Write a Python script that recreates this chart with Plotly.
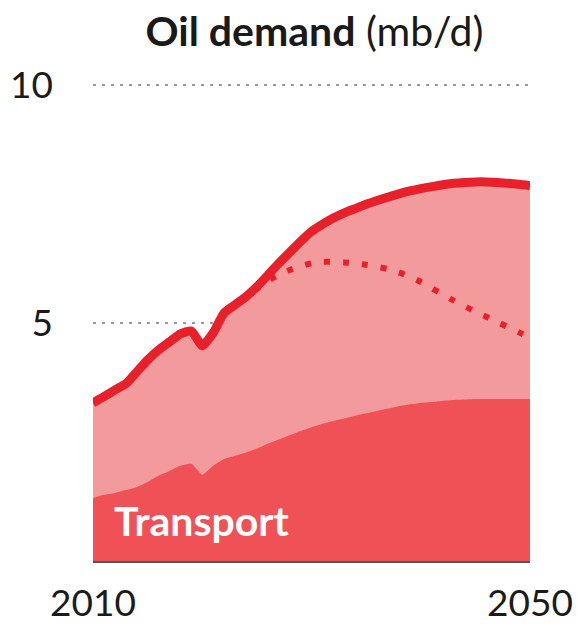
import plotly.graph_objects as go

years = list(range(2010, 2051))

# Total oil demand (mb/d), stated policies path
total = [3.32, 3.45, 3.59, 3.72, 3.97, 4.22, 4.43, 4.60, 4.77, 4.83,
         4.52, 4.79, 5.21, 5.38, 5.55, 5.76, 6.00, 6.25, 6.48, 6.71,
         6.92, 7.07, 7.20, 7.31, 7.40, 7.49, 7.57, 7.64, 7.71, 7.77,
         7.82, 7.86, 7.90, 7.93, 7.95, 7.96, 7.96, 7.95, 7.93, 7.91,
         7.88]

# Transport share of demand (mb/d)
transport = [1.32, 1.39, 1.43, 1.49, 1.55, 1.66, 1.79, 1.89, 2.00, 2.04,
             1.81, 2.00, 2.14, 2.21, 2.28, 2.36, 2.46, 2.55, 2.64, 2.73,
             2.81, 2.88, 2.94, 2.99, 3.05, 3.10, 3.15, 3.20, 3.25, 3.29,
             3.32, 3.34, 3.36, 3.38, 3.39, 3.40, 3.40, 3.40, 3.40, 3.40,
             3.40]

# Alternative scenario, diverging from 2022
alt_years = list(range(2022, 2051))
alt = [5.21, 5.38, 5.55, 5.72, 5.88, 6.01, 6.11, 6.19, 6.25, 6.28,
       6.28, 6.27, 6.25, 6.22, 6.18, 6.13, 6.06, 5.97, 5.86, 5.73,
       5.60, 5.47, 5.35, 5.24, 5.13, 5.02, 4.91, 4.80, 4.69]

y_ticks = [5, 10]
y_tick_labels = ["5", "10"]
x_ticks = [2010, 2050]
x_tick_labels = ["2010", "2050"]

FONT = "Lato"
LIGHT = "#F29A9C"
DARK = "#EF5157"
LINE = "#E8202A"
SMOOTH = 0.5

fig = go.Figure()

fig.add_trace(go.Scatter(
    x=years, y=total, mode="lines", fill="tozeroy",
    fillcolor=LIGHT, line=dict(width=0, color=LIGHT, shape="spline", smoothing=SMOOTH),
    hoverinfo="skip", showlegend=False,
))
fig.add_trace(go.Scatter(
    x=years, y=transport, mode="lines", fill="tozeroy",
    fillcolor=DARK, line=dict(width=0, color=DARK, shape="spline", smoothing=SMOOTH),
    hoverinfo="skip", showlegend=False,
))
fig.add_trace(go.Scatter(
    x=years, y=total, mode="lines",
    line=dict(width=9, color=LINE, shape="spline", smoothing=SMOOTH),
    hoverinfo="skip", showlegend=False,
))
fig.add_trace(go.Scatter(
    x=alt_years, y=alt, mode="lines",
    line=dict(width=6, color=LINE, dash="6px,13px", shape="spline", smoothing=SMOOTH),
    hoverinfo="skip", showlegend=False,
))

fig.add_annotation(
    x=2011.75, y=0.86, xref="x", yref="y", xanchor="left", yanchor="middle",
    text="<b>Transport</b>", showarrow=False,
    font=dict(family=FONT, size=41, color="white"),
)

fig.update_layout(
    width=577, height=627,
    margin=dict(l=93, r=47, t=80, b=66),
    paper_bgcolor="white", plot_bgcolor="white",
    title=dict(
        text="<b>Oil demand</b> (mb/d)",
        x=0.545, xanchor="center", y=0.95, yanchor="middle",
        font=dict(family=FONT, size=41, color="#1a1a1a"),
    ),
    xaxis=dict(
        range=[2010, 2050], tickvals=x_ticks, ticktext=x_tick_labels,
        showgrid=False, zeroline=False, automargin=False,
        showline=True, linecolor="#555555", linewidth=1.5,
        ticks="", ticklabelstandoff=9,
        tickfont=dict(family=FONT, size=37, color="#1a1a1a"),
    ),
    yaxis=dict(
        range=[0, 10.1], tickvals=y_ticks, ticktext=y_tick_labels,
        showgrid=True, gridcolor="#9a9a9a", griddash="3px,6px", gridwidth=2,
        zeroline=False, showline=False, ticks="", automargin=False,
        ticklabelstandoff=39,
        tickfont=dict(family=FONT, size=37, color="#1a1a1a"),
    ),
)

fig.write_html("out.html")
